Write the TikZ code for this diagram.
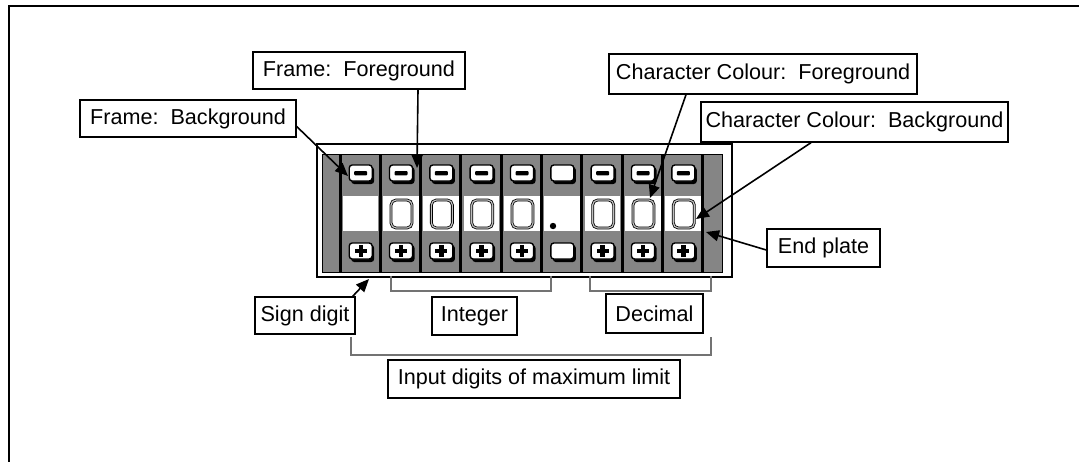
\documentclass[tikz,border=0pt]{standalone}
\usepackage{fontspec}
\setmainfont{Liberation Sans}
\usetikzlibrary{arrows.meta}
\begin{document}
\begin{tikzpicture}[x=1pt,y=-1pt,
  lbl/.style={draw, line width=1.4pt, font=\fontsize{21.6}{25}\selectfont, inner sep=0pt, minimum height=37pt},
  ptr/.style={line width=1.6pt, -{Triangle[length=13pt,width=11pt]}},
  brk/.style={draw=black!55, line width=1.2pt},
  chk/.style={fill=black!48},
  sep/.style={line width=3pt},
  btnface/.style={fill=white, draw=black, line width=1.4pt, rounded corners=3pt},
  btnshadow/.style={fill=black, rounded corners=3pt},
  zero/.style={draw=black, line width=0.8pt, double=black!25, double distance=1.2pt, rounded corners=5pt}
]
\useasboundingbox (0,0) rectangle (1079,461);
\fill[white] (0,0) rectangle (1079,461);
% outer frame
\draw[line width=1.6pt] (9,470) -- (9,6) -- (1090,6);

% panel
\draw[fill=white, line width=1.8pt] (317,144) rectangle (732,277);
\draw[chk, draw=black, line width=0.6pt] (322,154) rectangle (722,272);

\foreach \k in {0,...,8} {
  \pgfmathsetmacro\cx{360.2+40.33*\k}
  % middle white area
  \fill[white] (\cx-17.5,196) rectangle (\cx+18,231);
  % top button
  \fill[btnshadow] (\cx-9,167) rectangle (\cx+14,184);
  \draw[btnface] (\cx-11,165) rectangle (\cx+12,181);
  % bottom button
  \fill[btnshadow] (\cx-9,245) rectangle (\cx+14,262);
  \draw[btnface] (\cx-11,243) rectangle (\cx+12,259);
}
\foreach \k in {0,1,2,3,4,6,7,8} {
  \pgfmathsetmacro\cx{360.2+40.33*\k}
  \fill[rounded corners=1pt] (\cx-6,171) rectangle (\cx+7,175.4);
  \fill (\cx-5.5,248.8) rectangle (\cx+6.5,253.2);
  \fill (\cx-1.7,245.3) rectangle (\cx+2.7,256.7);
}
\foreach \k in {1,2,3,4,6,7,8} {
  \pgfmathsetmacro\cx{360.2+40.33*\k}
  \draw[zero] (\cx-9.5,200) rectangle (\cx+11.5,228);
}
% decimal point
\fill (553,226) circle (3.2);
% separators
\foreach \k in {0,...,9} {
  \pgfmathsetmacro\sx{340+40.33*\k}
  \draw[sep] (\sx,154) -- (\sx,272);
}

% labels
\node[lbl, minimum width=216pt] (fbg) at (188,118.5) {Frame:\ \ Background};
\node[lbl, minimum width=212pt] (ffg) at (359,70.5) {Frame:\ \ Foreground};
\node[lbl, minimum width=308pt, minimum height=40pt] (cfg) at (763,74) {Character Colour:\ \ Foreground};
\node[lbl, minimum width=307pt, minimum height=40pt] (cbg) at (854.5,122) {Character Colour:\ \ Background};
\node[lbl, minimum width=113pt, minimum height=38pt] (endp) at (823.5,248) {End plate};
\node[lbl, minimum width=100pt] (sign) at (305,315.5) {Sign digit};
\node[lbl, minimum width=85pt, minimum height=38pt] (integ) at (474.5,316) {Integer};
\node[lbl, minimum width=97pt, minimum height=39pt] (dec) at (654.5,313.5) {Decimal};
\node[lbl, minimum width=292pt, minimum height=38pt] (inp) at (534,379) {Input digits of maximum limit};

% arrow tips
\coordinate (tfbg) at (348,176);
\coordinate (tffg) at (417,168);
\coordinate (tcfg) at (650,198);
\coordinate (tcbg) at (696,219);
\coordinate (tend) at (706,232);
\coordinate (tsign) at (369,279);

\draw[ptr] ([yshift=-8pt]fbg.east) -- (tfbg);
\draw[ptr] ([xshift=59pt]ffg.south) -- (tffg);
\draw[ptr] ([xshift=-77pt]cfg.south) -- (tcfg);
\draw[ptr] ([xshift=-43.5pt]cbg.south) -- (tcbg);
\draw[ptr] ([yshift=-2pt]endp.west) -- (tend);
\draw[ptr] ([xshift=-3pt]sign.north east) -- (tsign);

% brackets
\draw[brk] (391,276) -- (391,291) -- (551,291) -- (551,276);
\draw[brk] (590,276) -- (590,291) -- (711,291) -- (711,276);
\draw[brk] (351,337) -- (351,355) -- (711,355) -- (711,337);
\end{tikzpicture}
\end{document}
